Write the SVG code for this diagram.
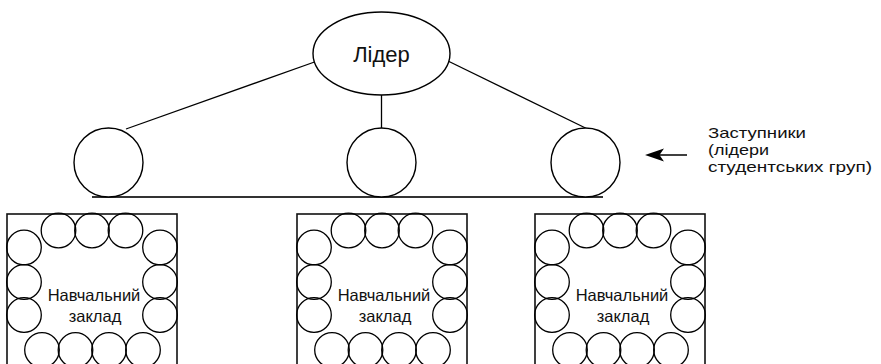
<svg xmlns="http://www.w3.org/2000/svg" width="881" height="364" viewBox="0 0 881 364">
  <style>
    .shape { fill: #fff; stroke: #000; stroke-width: 1.4; }
    .small { fill: none; stroke: #000; stroke-width: 1.3; }
    .box { fill: #fff; stroke: #111; stroke-width: 1.6; }
    .edge { stroke: #000; stroke-width: 1.3; fill: none; }
    .txt { font-family: "Liberation Sans", Arial, sans-serif; fill: #111; }
  </style>
  <defs>
    <!-- ring of members inside an institution box (relative to box top-left) -->
    <g id="ring">
      <circle class="small" cx="51.5" cy="16.5" r="17.3"/>
      <circle class="small" cx="85" cy="16.5" r="17.3"/>
      <circle class="small" cx="118.5" cy="16.5" r="17.3"/>
      <circle class="small" cx="17" cy="33.5" r="17.3"/>
      <circle class="small" cx="17" cy="68" r="17.3"/>
      <circle class="small" cx="17" cy="101" r="17.3"/>
      <circle class="small" cx="153" cy="33.5" r="17.3"/>
      <circle class="small" cx="153" cy="68" r="17.3"/>
      <circle class="small" cx="153" cy="101" r="17.3"/>
      <circle class="small" cx="35" cy="136" r="17.3"/>
      <circle class="small" cx="68.5" cy="136" r="17.3"/>
      <circle class="small" cx="102" cy="136" r="17.3"/>
      <circle class="small" cx="136" cy="136" r="17.3"/>
    </g>
  </defs>

  <!-- connectors -->
  <g id="connectors">
    <line class="edge" x1="314.5" y1="62" x2="126" y2="129"/>
    <line class="edge" x1="381.5" y1="95" x2="381.5" y2="128"/>
    <line class="edge" x1="448" y1="61" x2="585.5" y2="128"/>
    <line x1="92" y1="197" x2="603" y2="197" stroke="#333" stroke-width="1.8"/>
    <line class="edge" x1="687" y1="155" x2="650" y2="155"/>
    <path d="M645,155 L664,148.5 L659.5,155 L664,161.5 Z" fill="#000"/>
  </g>

  <g id="leader">
    <ellipse class="shape" cx="381.5" cy="53.5" rx="68.5" ry="41.5"/>
    <text class="txt" x="381.5" y="62" font-size="22" text-anchor="middle">Лідер</text>
  </g>

  <g id="deputy-1">
    <circle class="shape" cx="108.5" cy="162.5" r="34.5"/>
  </g>
  <g id="deputy-2">
    <circle class="shape" cx="381.5" cy="162.5" r="34.5"/>
  </g>
  <g id="deputy-3">
    <circle class="shape" cx="585.5" cy="162.5" r="34.5"/>
  </g>

  <g id="deputies-label">
    <text class="txt" font-size="15" x="708" y="138" textLength="98" lengthAdjust="spacingAndGlyphs">Заступники</text>
    <text class="txt" font-size="15" x="708" y="155" textLength="61" lengthAdjust="spacingAndGlyphs">(лідери</text>
    <text class="txt" font-size="15" x="708" y="172" textLength="164" lengthAdjust="spacingAndGlyphs">студентських груп)</text>
  </g>

  <g id="institution-1">
    <rect class="box" x="7" y="214" width="170" height="160"/>
    <use href="#ring" x="7" y="214"/>
    <text class="txt" x="94" y="301" font-size="16.5" text-anchor="middle">Навчальний</text>
    <text class="txt" x="95" y="322" font-size="16.5" text-anchor="middle">заклад</text>
  </g>

  <g id="institution-2">
    <rect class="box" x="297" y="214" width="170" height="160"/>
    <use href="#ring" x="297" y="214"/>
    <text class="txt" x="384" y="301" font-size="16.5" text-anchor="middle">Навчальний</text>
    <text class="txt" x="385" y="322" font-size="16.5" text-anchor="middle">заклад</text>
  </g>

  <g id="institution-3">
    <rect class="box" x="535" y="214" width="170" height="160"/>
    <use href="#ring" x="535" y="214"/>
    <text class="txt" x="622" y="301" font-size="16.5" text-anchor="middle">Навчальний</text>
    <text class="txt" x="623" y="322" font-size="16.5" text-anchor="middle">заклад</text>
  </g>
</svg>
